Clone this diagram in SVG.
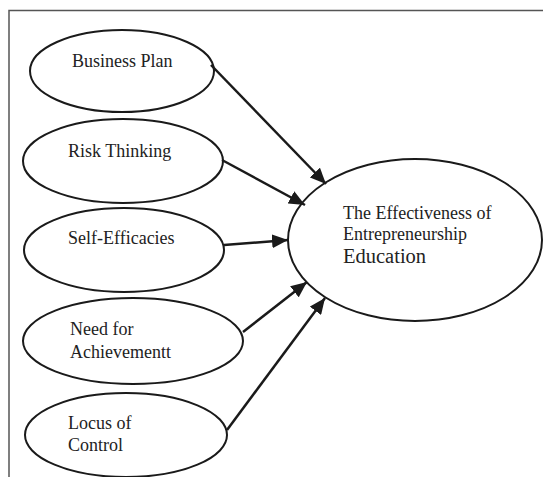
<svg xmlns="http://www.w3.org/2000/svg" width="543" height="477" viewBox="0 0 543 477">
<style>
.node ellipse{fill:#fff;stroke:#1a1a1a;stroke-width:2}
.lbl{font-family:"Liberation Serif","Times New Roman",serif;font-size:18px;fill:#222}
.conn line{stroke:#1a1a1a;stroke-width:2.5}
</style>
<defs>
<marker id="ah" markerUnits="userSpaceOnUse" markerWidth="18" markerHeight="14" refX="16" refY="7" orient="auto">
<path d="M0,0 L16,7 L0,14 Z" fill="#1a1a1a"/>
</marker>
</defs>
<rect x="0" y="0" width="543" height="477" fill="#fff"/>
<path d="M9,477 V10.5 H543" fill="none" stroke="#555" stroke-width="1.5"/>
<g id="n1" class="node"><ellipse cx="122" cy="71" rx="92" ry="41"/><text class="lbl" x="72" y="67">Business Plan</text></g>
<g id="n2" class="node"><ellipse cx="123" cy="161" rx="100" ry="42"/><text class="lbl" x="68" y="157">Risk Thinking</text></g>
<g id="n3" class="node"><ellipse cx="124" cy="250" rx="100" ry="42"/><text class="lbl" x="68" y="244">Self-Efficacies</text></g>
<g id="n4" class="node"><ellipse cx="133" cy="341" rx="110" ry="43"/><text class="lbl" x="70" y="335">Need for</text><text class="lbl" x="70" y="358">Achievementt</text></g>
<g id="n5" class="node"><ellipse cx="126" cy="435" rx="101" ry="42"/><text class="lbl" x="68" y="429">Locus of</text><text class="lbl" x="68" y="451">Control</text></g>
<g id="n6" class="node"><ellipse cx="415" cy="240" rx="127" ry="81"/><text class="lbl" x="343" y="219">The Effectiveness of</text><text class="lbl" x="343" y="240">Entrepreneurship</text><text class="lbl" x="343" y="263" style="font-size:20.5px">Education</text></g>
<g id="connectors" class="conn">
<line x1="211" y1="65" x2="326" y2="184" marker-end="url(#ah)"/>
<line x1="222" y1="160" x2="305" y2="205" marker-end="url(#ah)"/>
<line x1="224" y1="245" x2="288" y2="240" marker-end="url(#ah)"/>
<line x1="243" y1="332" x2="307" y2="282" marker-end="url(#ah)"/>
<line x1="227" y1="430" x2="325" y2="298" marker-end="url(#ah)"/>
</g>
</svg>
